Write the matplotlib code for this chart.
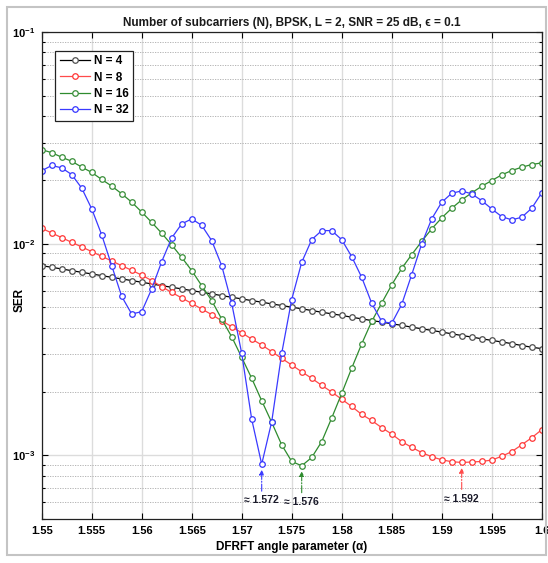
import numpy as np
import matplotlib
matplotlib.use("Agg")
import matplotlib.pyplot as plt
from matplotlib.ticker import FixedLocator, FixedFormatter, LogLocator, NullFormatter
from matplotlib.patches import Rectangle

plt.rcParams['font.family'] = ['Liberation Sans', 'DejaVu Sans']
plt.rcParams['mathtext.fontset'] = 'custom'
plt.rcParams['mathtext.rm'] = 'Liberation Sans'
plt.rcParams['mathtext.bf'] = 'Liberation Sans:bold'
plt.rcParams['mathtext.it'] = 'Liberation Sans:italic'

# ======================
# Data
# ======================
alpha = np.round(1.55 + 0.001 * np.arange(51), 3)

ser_n4 = [7.87e-3, 7.73e-3, 7.59e-3, 7.45e-3, 7.32e-3, 7.19e-3, 7.06e-3, 6.93e-3,
          6.81e-3, 6.69e-3, 6.57e-3, 6.45e-3, 6.33e-3, 6.22e-3, 6.11e-3, 6.00e-3,
          5.89e-3, 5.79e-3, 5.68e-3, 5.58e-3, 5.48e-3, 5.38e-3, 5.29e-3, 5.19e-3,
          5.10e-3, 5.01e-3, 4.92e-3, 4.83e-3, 4.74e-3, 4.66e-3, 4.58e-3, 4.49e-3,
          4.41e-3, 4.33e-3, 4.26e-3, 4.18e-3, 4.11e-3, 4.03e-3, 3.96e-3, 3.89e-3,
          3.82e-3, 3.75e-3, 3.68e-3, 3.62e-3, 3.55e-3, 3.49e-3, 3.43e-3, 3.37e-3,
          3.30e-3, 3.24e-3, 3.19e-3]

ser_n8 = [1.181e-2, 1.123e-2, 1.067e-2, 1.014e-2, 9.65e-3, 9.17e-3, 8.71e-3, 8.28e-3,
          7.87e-3, 7.48e-3, 7.10e-3, 6.69e-3, 6.26e-3, 5.88e-3, 5.54e-3, 5.22e-3,
          4.91e-3, 4.62e-3, 4.32e-3, 4.05e-3, 3.79e-3, 3.54e-3, 3.32e-3, 3.09e-3,
          2.87e-3, 2.67e-3, 2.48e-3, 2.31e-3, 2.14e-3, 1.99e-3, 1.84e-3, 1.70e-3,
          1.56e-3, 1.46e-3, 1.35e-3, 1.26e-3, 1.16e-3, 1.09e-3, 1.03e-3, 9.84e-4,
          9.52e-4, 9.32e-4, 9.25e-4, 9.29e-4, 9.35e-4, 9.49e-4, 9.89e-4, 1.04e-3,
          1.12e-3, 1.21e-3, 1.32e-3]

ser_n16 = [2.78e-2, 2.69e-2, 2.56e-2, 2.45e-2, 2.30e-2, 2.17e-2, 2.01e-2, 1.87e-2,
           1.72e-2, 1.57e-2, 1.41e-2, 1.26e-2, 1.12e-2, 9.86e-3, 8.61e-3, 7.46e-3,
           6.33e-3, 5.38e-3, 4.40e-3, 3.63e-3, 2.90e-3, 2.31e-3, 1.81e-3, 1.43e-3,
           1.12e-3, 9.35e-4, 8.92e-4, 9.76e-4, 1.16e-3, 1.50e-3, 1.96e-3, 2.58e-3,
           3.36e-3, 4.29e-3, 5.24e-3, 6.38e-3, 7.64e-3, 8.87e-3, 1.025e-2, 1.174e-2,
           1.323e-2, 1.469e-2, 1.609e-2, 1.737e-2, 1.866e-2, 1.986e-2, 2.113e-2, 2.214e-2,
           2.296e-2, 2.364e-2, 2.408e-2]

ser_n32 = [2.21e-2, 2.34e-2, 2.28e-2, 2.12e-2, 1.83e-2, 1.46e-2, 1.10e-2, 7.87e-3,
           5.63e-3, 4.65e-3, 4.77e-3, 6.11e-3, 8.22e-3, 1.064e-2, 1.239e-2, 1.309e-2,
           1.220e-2, 1.033e-2, 7.87e-3, 5.22e-3, 3.03e-3, 1.48e-3, 9.07e-4, 1.44e-3,
           3.03e-3, 5.44e-3, 8.16e-3, 1.044e-2, 1.152e-2, 1.152e-2, 1.044e-2, 8.68e-3,
           6.93e-3, 5.23e-3, 4.29e-3, 4.20e-3, 5.16e-3, 7.13e-3, 9.97e-3, 1.309e-2,
           1.568e-2, 1.729e-2, 1.775e-2, 1.718e-2, 1.597e-2, 1.459e-2, 1.342e-2, 1.295e-2,
           1.332e-2, 1.469e-2, 1.737e-2]

labels = ["N = 4", "N = 8", "N = 16", "N = 32"]
xtick_vals = [1.55, 1.555, 1.56, 1.565, 1.57, 1.575, 1.58, 1.585, 1.59, 1.595, 1.6]
xtick_labels = ["1.55", "1.555", "1.56", "1.565", "1.57", "1.575", "1.58", "1.585",
                "1.59", "1.595", "1.6"]
ytick_vals = [1e-3, 1e-2, 1e-1]
ytick_labels = [r"$\mathbf{10^{-3}}$", r"$\mathbf{10^{-2}}$", r"$\mathbf{10^{-1}}$"]

# line colour, marker edge colour
styles = [("#000000", "#505050"),
          ("#ff4a4a", "#ff3535"),
          ("#2e8b2e", "#3a8f3a"),
          ("#3a3aff", "#3535ff")]

# ======================
# Figure
# ======================
fig = plt.figure(figsize=(5.48, 5.63), dpi=100)
ax = fig.add_axes([0.0761, 0.0782, 0.9124, 0.8650])

series = [ser_n4, ser_n8, ser_n16, ser_n32]
for ser, lab, (lc, mc) in zip(series, labels, styles):
    ax.semilogy(alpha, ser, color=lc, lw=0.9, marker="o", markersize=4,
                mfc="white", mec=mc, mew=0.9, label=lab)

ax.set_xlim(1.55, 1.6)
ax.set_ylim(5e-4, 1e-1)

ax.xaxis.set_major_locator(FixedLocator(xtick_vals))
ax.xaxis.set_major_formatter(FixedFormatter(xtick_labels))
ax.yaxis.set_major_locator(FixedLocator(ytick_vals))
ax.yaxis.set_major_formatter(FixedFormatter(ytick_labels))
ax.yaxis.set_minor_locator(LogLocator(base=10, subs=np.arange(2, 10)))
ax.yaxis.set_minor_formatter(NullFormatter())

ax.tick_params(which="both", direction="in", top=True, right=True, width=0.8)
ax.tick_params(which="major", length=4, labelsize=8, pad=5)
ax.tick_params(which="minor", length=2.5)
for t in ax.get_xticklabels():
    t.set_fontweight("bold")

for s in ax.spines.values():
    s.set_linewidth(0.9)
    s.set_color("#222222")

ax.set_axisbelow(True)
ax.grid(which="major", axis="both", color="#dcdcdc", lw=1.0, ls="-")
ax.grid(which="minor", axis="y", color="#aaaaaa", lw=0.6, ls=(0, (1.5, 1.5)))

ax.set_title("Number of subcarriers (N), BPSK, L = 2, SNR = 25 dB, \u03f5 = 0.1",
             fontsize=8.5, fontweight="bold", pad=4, color="#1a1a1a")
ax.set_xlabel("DFRFT angle parameter (\u03b1)", fontsize=8.5, fontweight="bold", labelpad=4)
ax.set_ylabel("SER", fontsize=8.5, fontweight="bold")
ax.yaxis.set_label_coords(-0.032, 0.45)

leg = ax.legend(loc="upper left", bbox_to_anchor=(0.0266, 0.9616), borderaxespad=0,
                fancybox=False, framealpha=1, edgecolor="#222222",
                prop={"size": 8.5, "weight": "bold"}, handlelength=2.6,
                handletextpad=0.3, labelspacing=0.35, borderpad=0.4)
leg.get_frame().set_linewidth(0.9)

# arrows pointing at the minimum of N = 8, 16, 32
for ser, (lc, mc) in zip(series[1:], styles[1:]):
    i = int(np.argmin(ser))
    ax.annotate(f"\u2248 {alpha[i]:.3f}", xy=(alpha[i], ser[i]), xytext=(0, -26),
                textcoords="offset points", ha="center", va="center",
                fontsize=7.5, fontweight="bold", color="#1a1a2a",
                arrowprops=dict(arrowstyle="-|>", color=lc, lw=0.8, ls="-.",
                                shrinkA=1, shrinkB=4, mutation_scale=7))

# figure border like the MATLAB window
fig.patches.append(Rectangle((0.0128, 0.0142), 0.9836, 0.9734, transform=fig.transFigure,
                             fill=False, edgecolor="#c4c4c4", lw=1.5))

fig.savefig("out.png", dpi=100)
